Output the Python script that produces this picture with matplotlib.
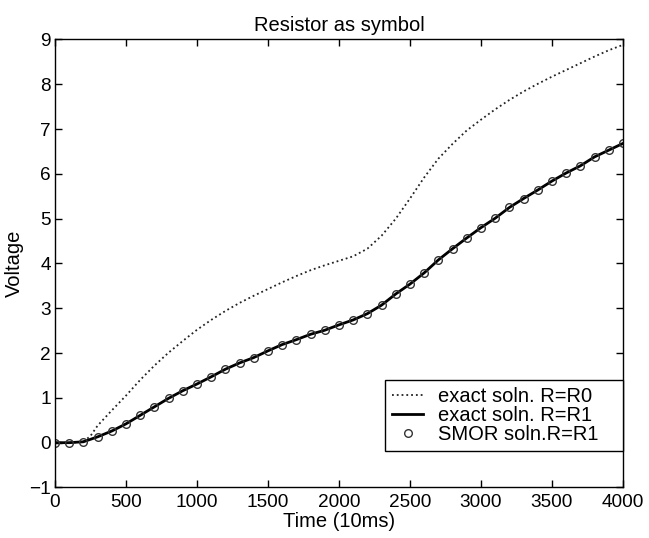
import numpy as np
import matplotlib
matplotlib.use('Agg')
import matplotlib.pyplot as plt

plt.rcParams['font.family'] = ['Liberation Sans', 'DejaVu Sans']

# exact solution with R = R0 (dotted)
t_r0 = [0, 100, 200, 250, 300, 400, 500, 600, 700, 800, 900, 1000, 1100, 1200,
        1300, 1400, 1500, 1600, 1700, 1800, 1900, 2000, 2100, 2200, 2300, 2400,
        2500, 2600, 2700, 2800, 2900, 3000, 3100, 3200, 3300, 3400, 3500, 3600,
        3700, 3800, 3900, 4000]
v_r0 = [0.0, 0.0, 0.02, 0.15, 0.38, 0.72, 1.05, 1.40, 1.72, 2.01, 2.27, 2.52,
        2.74, 2.94, 3.12, 3.28, 3.43, 3.58, 3.72, 3.85, 3.96, 4.06, 4.16, 4.33,
        4.62, 5.00, 5.45, 5.92, 6.34, 6.67, 6.97, 7.21, 7.44, 7.65, 7.84, 8.01,
        8.17, 8.32, 8.47, 8.62, 8.76, 8.88]

# exact solution with R = R1 and the SMOR points (every 100 steps)
t_r1 = list(range(0, 4001, 100))
v_r1 = [0.0, 0.0, 0.02, 0.13, 0.26, 0.42, 0.61, 0.80, 0.99, 1.16, 1.31, 1.47,
        1.64, 1.78, 1.90, 2.05, 2.19, 2.30, 2.42, 2.51, 2.63, 2.74, 2.88, 3.07,
        3.32, 3.54, 3.79, 4.08, 4.33, 4.57, 4.80, 5.01, 5.25, 5.45, 5.64, 5.84,
        6.02, 6.18, 6.38, 6.53, 6.68]
v_smor = v_r1

fig = plt.figure(figsize=(6.49, 5.38), dpi=100)
ax = fig.add_axes([0.0847, 0.0939, 0.8752, 0.8327])

ax.plot(t_r0, v_r0, linestyle=':', color='#222222', linewidth=1.3,
        label='exact soln. R=R0')
ax.plot(t_r1, v_r1, linestyle='-', color='black', linewidth=2.0,
        label='exact soln. R=R1')
ax.plot(t_r1, v_smor, linestyle='none', marker='o', markersize=5.5,
        markerfacecolor='none', markeredgecolor='#333333', markeredgewidth=1.0,
        label='SMOR soln.R=R1')

ax.set_xlim(0, 4000)
ax.set_ylim(-1, 9)
ax.set_xticks(np.arange(0, 4001, 500))
ax.set_yticks(np.arange(-1, 10, 1))
ax.set_yticklabels(['\u22121'] + [str(v) for v in range(0, 10)])

ax.tick_params(direction='in', top=True, right=True, length=5, width=1,
               labelsize=13.7)
ax.tick_params(axis='x', pad=4.5)
ax.tick_params(axis='y', pad=3)
for s in ax.spines.values():
    s.set_linewidth(1.0)

ax.set_title('Resistor as symbol', fontsize=14.5, pad=6)
ax.set_xlabel('Time (10ms)', fontsize=14.5, labelpad=1)
ax.set_ylabel('Voltage', fontsize=14.5, labelpad=4)

# matlab style legend box: wider than its text, extra room on the right
leg = ax.legend(loc='lower left', bbox_to_anchor=(0.581, 0.082, 0.419, 0.167),
                mode='expand', borderaxespad=0,
                fontsize=14.5, fancybox=False, framealpha=1, edgecolor='black',
                handlelength=1.55, handletextpad=0.75, labelspacing=0.0,
                borderpad=0.35, numpoints=1)
leg.get_frame().set_linewidth(1.0)

plt.savefig('out.png', dpi=100)
